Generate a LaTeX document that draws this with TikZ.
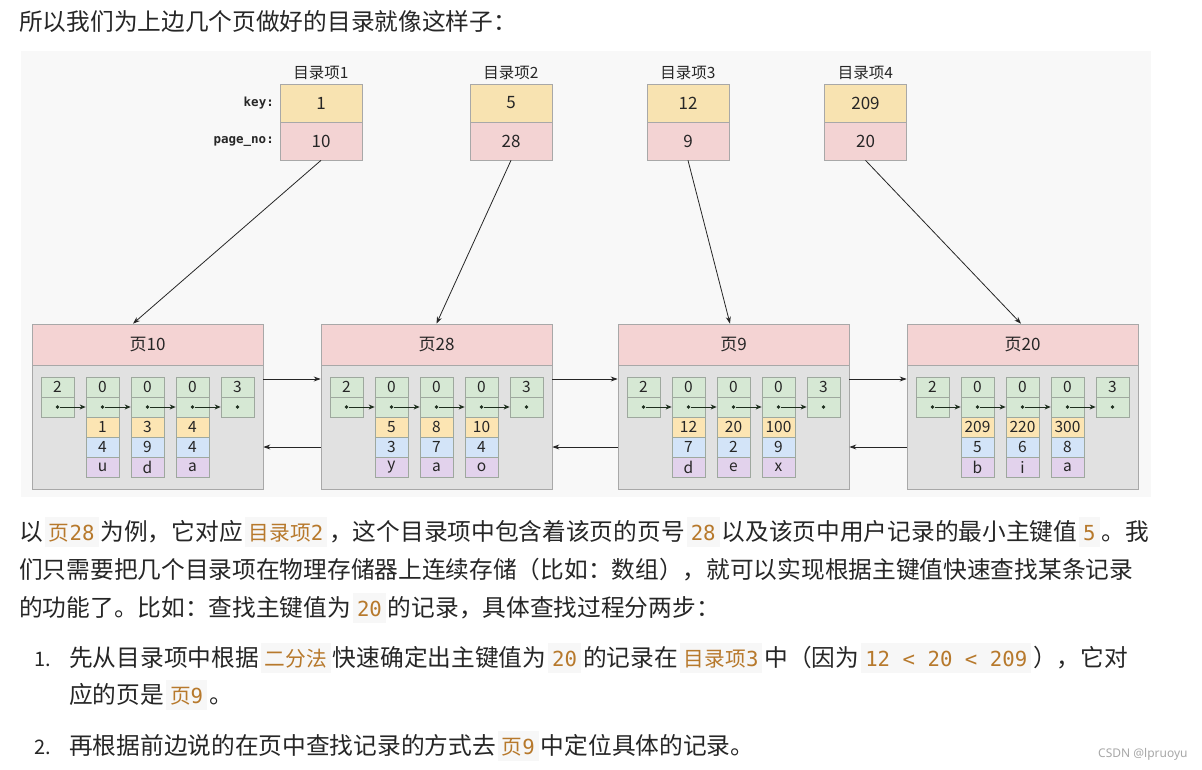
\documentclass[tikz,border=0pt]{standalone}
\usepackage{fontspec}
\setmainfont{Noto Sans CJK SC}
\newfontfamily\cjk{Noto Sans CJK SC}
\newfontfamily\monof{DejaVu Sans Mono}
\newfontfamily\wmfont{Noto Sans}
\usetikzlibrary{arrows.meta}
\definecolor{diagbg}{HTML}{F8F8F8}
\definecolor{dirkey}{HTML}{F8E3B1}
\definecolor{dirpg}{HTML}{F3D3D3}
\definecolor{pghead}{HTML}{F4D3D3}
\definecolor{pgbody}{HTML}{E1E1E1}
\definecolor{gfill}{HTML}{D6E8D4}
\definecolor{yfill}{HTML}{FCE5B3}
\definecolor{bfill}{HTML}{D3E4F8}
\definecolor{pfill}{HTML}{E2D2EC}
\definecolor{cellline}{HTML}{9EA89E}
\definecolor{boxline}{HTML}{A8A8A8}
\definecolor{txt}{HTML}{262626}
\definecolor{codefg}{HTML}{B7792C}
\definecolor{codebg}{HTML}{F7F7F7}
\definecolor{dotc}{HTML}{1E2E1E}
\definecolor{wmgray}{HTML}{A8A8A8}
\newcommand\cn[1]{{\monof #1}}
\newcommand\cd[1]{\hspace{2pt}{\setlength\fboxsep{0pt}\colorbox{codebg}{\rule[-7pt]{0pt}{30pt}\hspace{4pt}{\fontsize{20.7}{24}\selectfont\color{codefg}#1}\hspace{4pt}}}\hspace{2pt}}
\newcommand\grp[3]{%
  \node[gcell] (#1a) at (#2,387) {#3};
  \node[gcell] (#1b) at (#2,407) {};
  \node[dotn] (#1d) at (#2,407) {};
}
\newcommand\rec[5]{%
  \grp{#1}{#2}{0}
  \node[ycell] (#1k) at (#2,427) {#3};
  \node[bcell] (#1n) at (#2,447) {#4};
  \node[pcell] (#1c) at (#2,467) {#5};
}
\newcommand\pageframe[3]{%
  \node[pgheadst] (h#1) at ({#2+115.5},344.5) {#3};
  \node[pgbodyst] (b#1) at ({#2+115.5},427) {};
  \grp{#1i}{#2+25.5}{2}
  \grp{#1s}{#2+205.5}{3}
}
\newcommand\pagelinks[1]{%
  \draw[link] (#1id) -- (#11b.west);
  \draw[link] (#11d) -- (#12b.west);
  \draw[link] (#12d) -- (#13b.west);
  \draw[link] (#13d) -- (#1sb.west);
}
\begin{document}
\begin{tikzpicture}[x=1pt,y=-1pt,
  para/.style={anchor=base west,inner sep=0pt,text=txt,font=\fontsize{23.7}{28}\selectfont},
  numst/.style={anchor=base west,inner sep=0pt,text=txt,font=\fontsize{20}{24}\selectfont},
  cellbase/.style={rectangle,draw=cellline,line width=0.7pt,minimum width=33pt,minimum height=20pt,inner sep=0pt,text=txt,font=\fontsize{15.5}{18}\selectfont},
  gcell/.style={cellbase,fill=gfill},
  ycell/.style={cellbase,fill=yfill},
  bcell/.style={cellbase,fill=bfill},
  pcell/.style={cellbase,fill=pfill},
  dotn/.style={circle,fill=dotc,inner sep=0pt,minimum size=3.6pt},
  link/.style={draw=dotc,line width=0.8pt,-{Stealth[length=6pt,width=5pt]}},
  pgheadst/.style={rectangle,draw=boxline,fill=pghead,line width=0.7pt,minimum width=231pt,minimum height=41pt,inner sep=0pt,text=txt,font=\fontsize{17}{20}\selectfont},
  pgbodyst/.style={rectangle,draw=boxline,fill=pgbody,line width=0.7pt,minimum width=231pt,minimum height=124pt,inner sep=0pt},
  dirlab/.style={inner sep=0pt,text=txt,font=\fontsize{15.5}{18}\selectfont},
  dkeyst/.style={rectangle,draw=boxline,fill=dirkey,line width=0.7pt,minimum width=82pt,minimum height=38pt,inner sep=0pt,text=txt,font=\fontsize{17}{20}\selectfont},
  dpgst/.style={rectangle,draw=boxline,fill=dirpg,line width=0.7pt,minimum width=82pt,minimum height=38pt,inner sep=0pt,text=txt,font=\fontsize{17}{20}\selectfont},
  klab/.style={anchor=east,inner sep=0pt,text=txt,font=\monof\bfseries\fontsize{12.5}{15}\selectfont},
  conn/.style={draw=txt,line width=0.8pt,-{Stealth[length=7pt,width=5pt]}}
]
\useasboundingbox (0,0) rectangle (1202,770);
\fill[white] (0,0) rectangle (1202,770);
\fill[diagbg] (21,51) rectangle (1151,497);

% heading text
\node[para] (t0) at (19,31) {所以我们为上边几个页做好的目录就像这样子：};

% directory items
\node[klab] (kl) at (274,103) {key:};
\node[klab] (pl) at (274,141) {page\_no:};
\foreach \n/\x/\k/\pg in {1/321/1/10, 2/511/5/28, 3/688/12/9, 4/865.5/209/20} {
  \node[dirlab] (l\n) at (\x,73) {目录项\n};
  \node[dkeyst] (k\n) at (\x,103) {\k};
  \node[dpgst] (q\n) at (\x,141) {\pg};
}

% pages
\pageframe{A}{32}{页10}
\rec{A1}{102.5}{1}{4}{u}
\rec{A2}{147.5}{3}{9}{d}
\rec{A3}{192.5}{4}{4}{a}
\pagelinks{A}

\pageframe{B}{321}{页28}
\rec{B1}{391.5}{5}{3}{y}
\rec{B2}{436.5}{8}{7}{a}
\rec{B3}{481.5}{10}{4}{o}
\pagelinks{B}

\pageframe{C}{618}{页9}
\rec{C1}{688.5}{12}{7}{d}
\rec{C2}{733.5}{20}{2}{e}
\rec{C3}{778.5}{100}{9}{x}
\pagelinks{C}

\pageframe{D}{907}{页20}
\rec{D1}{977.5}{209}{5}{b}
\rec{D2}{1022.5}{220}{6}{i}
\rec{D3}{1067.5}{300}{8}{a}
\pagelinks{D}

% page to page links
\draw[conn] ([yshift=48pt]bA.east) -- ([yshift=48pt]bB.west);
\draw[conn] ([yshift=48pt]bB.east) -- ([yshift=48pt]bC.west);
\draw[conn] ([yshift=48pt]bC.east) -- ([yshift=48pt]bD.west);
\draw[conn] ([yshift=-20pt]bB.west) -- ([yshift=-20pt]bA.east);
\draw[conn] ([yshift=-20pt]bC.west) -- ([yshift=-20pt]bB.east);
\draw[conn] ([yshift=-20pt]bD.west) -- ([yshift=-20pt]bC.east);

% directory to page
\draw[conn] (q1.south) -- ([xshift=-14.5pt]hA.north);
\draw[conn] (q2.south) -- (hB.north);
\draw[conn] (q3.south) -- ([xshift=-3.5pt]hC.north);
\draw[conn] (q4.south) -- ([xshift=-1.5pt]hD.north);

% body text
\node[para] (t1) at (19,540) {以\cd{页\cn{28}}为例，它对应\cd{目录项\cn{2}}，这个目录项中包含着该页的页号\cd{\cn{28}}以及该页中用户记录的最小主键值\cd{\cn{5}}。我};
\node[para] (t2) at (19,578) {们只需要把几个目录项在物理存储器上连续存储（比如：数组），就可以实现根据主键值快速查找某条记录};
\node[para] (t3) at (19,616) {的功能了。比如：查找主键值为\cd{\cn{20}}的记录，具体查找过程分两步：};
\node[numst] (n1) at (34,666) {1.};
\node[para] (t4) at (69,666) {先从目录项中根据\cd{二分法}快速确定出主键值为\cd{\cn{20}}的记录在\cd{目录项\cn{3}}中（因为\cd{\cn{12 < 20 < 209}}），它对};
\node[para] (t5) at (69,703) {应的页是\cd{页\cn{9}}。};
\node[numst] (n2) at (34,754) {2.};
\node[para] (t6) at (69,754) {再根据前边说的在页中查找记录的方式去\cd{页\cn{9}}中定位具体的记录。};

\node[anchor=base west,inner sep=0pt,text=wmgray,font=\wmfont\fontsize{12}{14}\selectfont] (wm) at (1098,757) {CSDN @lpruoyu};
\end{tikzpicture}
\end{document}
